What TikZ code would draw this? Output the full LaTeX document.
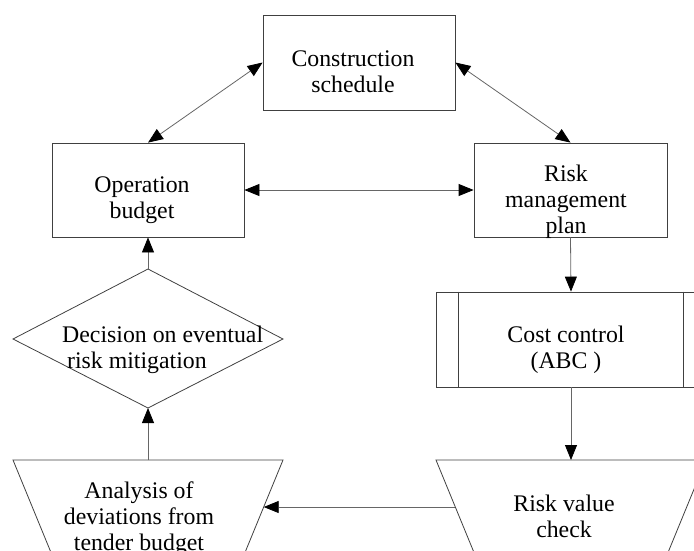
\documentclass[tikz,border=0pt]{standalone}
\usepackage{fontspec}
\setmainfont{Liberation Serif}
\usetikzlibrary{arrows.meta}
\begin{document}
\begin{tikzpicture}[x=1pt,y=-1pt,
  >={Triangle[length=15pt,width=12pt,color=black]},
  box/.style={draw=black!75, line width=0.8pt, inner sep=0pt, minimum width=#1},
  outline/.style={draw=black!75, line width=0.8pt},
  conn/.style={draw=black!60, line width=0.8pt},
  txt/.style={align=center, inner sep=0pt, font=\fontsize{23.8pt}{26pt}\selectfont}
]
\useasboundingbox (0,0) rectangle (694,550);
\clip (0,0) rectangle (694,550);

% boxes
\node[box=192pt, minimum height=95pt] (cs) at (359,62.5) {};
\node[box=192pt, minimum height=94pt] (op) at (148,190) {};
\node[box=193pt, minimum height=94pt] (rm) at (570.5,190) {};
\node[box=270pt, minimum height=95pt] (cc) at (571,339.5) {};
\draw[outline] ([xshift=23pt]cc.north west) -- ([xshift=23pt]cc.south west);
\draw[outline] ([xshift=-23pt]cc.north east) -- ([xshift=-23pt]cc.south east);

% diamond
\coordinate (dt) at (148,269);
\coordinate (dr) at (283,339);
\coordinate (db) at (148,408);
\coordinate (dl) at (13,339);
\draw[outline] (dt) -- (dr) -- (db) -- (dl) -- cycle;

% trapezoids
\coordinate (a1) at (13,460);
\coordinate (a2) at (283,460);
\coordinate (a3) at (66.4,590);
\coordinate (a4) at (229.6,590);
\draw[outline] (a3) -- (a1) -- (a2) -- (a4) -- cycle;
\coordinate (r1) at (436,460);
\coordinate (r2) at (706,460);
\coordinate (r3) at (489.4,590);
\coordinate (r4) at (652.6,590);
\draw[outline] (r3) -- (r1) -- (r2) -- (r4) -- cycle;
\coordinate (atop) at (148,460);
\coordinate (rtop) at (571,460);
\coordinate (aright) at (263.7,507);
\coordinate (rleft) at (455.3,507);

% texts
\node[txt] (cst) at (353,72) {Construction\\schedule};
\node[txt] (opt) at (142,200) {Operation\\budget};
\node[txt] (rmt) at (566,201.5) {Risk\\management\\plan};
\node[txt] (cct) at (566,350) {Cost control\\(ABC )};
\node[txt, align=left, anchor=west] (dmt) at (62,350) {Decision on eventual\\\hspace*{5pt}risk mitigation};
\node[txt] (ant) at (139,518.5) {Analysis of\\deviations from\\tender budget};
\node[txt] (rvt) at (564,516.6) {Risk value\\check};

% connectors
\draw[conn,<->] (op.north) -- (cs.west);
\draw[conn,<->] (cs.east) -- (rm.north);
\draw[conn,<->] (op.east) -- (rm.west);
\draw[conn,->] (rm.south) -- (cc.north);
\draw[conn,->] (cc.south) -- (rtop);
\draw[conn,->] (rleft) -- (aright);
\draw[conn,->] (atop) -- (db);
\draw[conn,->] (dt) -- (op.south);
\end{tikzpicture}
\end{document}
